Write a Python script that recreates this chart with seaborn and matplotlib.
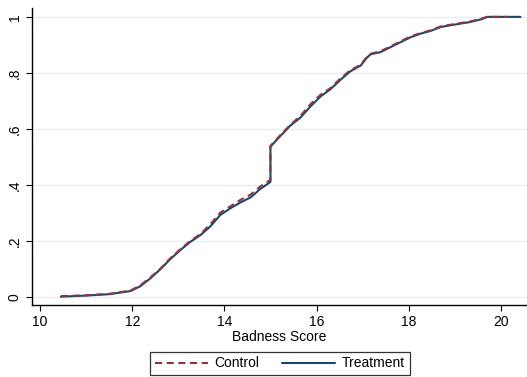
import matplotlib
matplotlib.use("Agg")
import matplotlib.pyplot as plt
from matplotlib.lines import Line2D
import numpy as np
import pandas as pd
import seaborn as sns

# Cumulative distribution of the badness score, by group
treat_x = [10.45, 11.0, 11.5, 11.96, 12.17, 12.39, 12.61, 12.83, 13.04, 13.26,
           13.48, 13.70, 13.91, 14.13, 14.35, 14.57, 14.78, 15.0, 15.0, 15.22,
           15.43, 15.65, 15.87, 16.09, 16.30, 16.52, 16.74, 16.96, 17.07, 17.17,
           17.39, 17.61, 17.83, 18.04, 18.26, 18.48, 18.70, 18.91, 19.13, 19.35,
           19.57, 19.71, 20.43]
treat_y = [0.0, 0.004, 0.009, 0.020, 0.037, 0.065, 0.098, 0.135, 0.166, 0.196,
           0.220, 0.252, 0.292, 0.316, 0.337, 0.355, 0.385, 0.410, 0.536, 0.575,
           0.611, 0.640, 0.680, 0.716, 0.741, 0.775, 0.806, 0.826, 0.850, 0.866,
           0.874, 0.892, 0.910, 0.927, 0.940, 0.950, 0.964, 0.970, 0.976, 0.982,
           0.991, 1.0, 1.0]

ctrl_x = [10.45, 11.0, 11.5, 11.96, 12.17, 12.39, 12.61, 12.83, 13.04, 13.26,
          13.48, 13.70, 13.91, 14.13, 14.35, 14.57, 14.78, 15.0, 15.0, 15.22,
          15.43, 15.65, 15.87, 16.09, 16.30, 16.52, 16.74, 16.96, 17.07, 17.17,
          17.39, 17.61, 17.83, 18.04, 18.26, 18.48, 18.70, 18.91, 19.13, 19.35,
          19.57, 19.71, 20.15]
ctrl_y = [0.002, 0.005, 0.010, 0.022, 0.040, 0.068, 0.100, 0.138, 0.169, 0.199,
          0.224, 0.260, 0.300, 0.323, 0.346, 0.365, 0.394, 0.418, 0.539, 0.578,
          0.614, 0.646, 0.688, 0.722, 0.745, 0.780, 0.810, 0.829, 0.852, 0.868,
          0.877, 0.895, 0.913, 0.930, 0.942, 0.952, 0.966, 0.972, 0.978, 0.984,
          0.993, 1.0, 1.0]

x_ticks = [10, 12, 14, 16, 18, 20]
y_ticks = [0, 0.2, 0.4, 0.6, 0.8, 1.0]
y_tick_labels = ["0", ".2", ".4", ".6", ".8", "1"]

NAVY = "#1A476F"
MAROON = "#90353B"
DASH = [3.4, 2.2]

sns.set_theme(style="white")
plt.rcParams["font.family"] = ["Liberation Sans", "DejaVu Sans"]
plt.rcParams["text.color"] = "black"
plt.rcParams["axes.labelcolor"] = "black"
plt.rcParams["xtick.color"] = "black"
plt.rcParams["ytick.color"] = "black"

treat = pd.DataFrame({"score": treat_x, "cdf": treat_y})
ctrl = pd.DataFrame({"score": ctrl_x, "cdf": ctrl_y})

fig = plt.figure(figsize=(5.27, 3.77), dpi=100)
ax = fig.add_axes([0.060, 0.190, 0.940, 0.789])

for yv in y_ticks:
    ax.axhline(yv, color="#E6EEEF", lw=1.0, zorder=0)

sns.lineplot(data=treat, x="score", y="cdf", sort=False, estimator=None,
             color=NAVY, lw=1.5, ax=ax, zorder=2)
sns.lineplot(data=ctrl, x="score", y="cdf", sort=False, estimator=None,
             color=MAROON, lw=1.5, ax=ax, zorder=3)
ax.lines[-1].set_dashes(DASH)

ax.set_xlim(9.815, 20.57)
ax.set_ylim(-0.031, 1.032)
ax.set_xticks(x_ticks)
ax.set_xticklabels([str(v) for v in x_ticks])
ax.set_yticks(y_ticks)
ax.set_yticklabels(y_tick_labels, rotation=90, va="center")
ax.tick_params(axis="both", which="major", direction="out", length=4,
               width=0.8, color="black", labelcolor="black", labelsize=10,
               pad=3, bottom=True, left=True)
ax.set_xlabel("Badness Score", fontsize=10, labelpad=1, color="black")
ax.set_ylabel("")

for side in ["top", "right"]:
    ax.spines[side].set_visible(False)
for side in ["left", "bottom"]:
    ax.spines[side].set_color("black")
    ax.spines[side].set_linewidth(1.0)

handles = [Line2D([], [], color=MAROON, lw=1.5, dashes=DASH),
           Line2D([], [], color=NAVY, lw=1.5)]
leg = fig.legend(handles, ["Control", "Treatment"], loc="center",
                 bbox_to_anchor=(0.531, 0.036), ncol=2, fontsize=10,
                 frameon=True, fancybox=False, edgecolor="black",
                 handlelength=3.8, handletextpad=0.5, columnspacing=1.6,
                 borderpad=0.35, borderaxespad=0)
leg.get_frame().set_linewidth(0.9)
for t in leg.get_texts():
    t.set_color("black")

fig.savefig("out.png", dpi=100, facecolor="white")
